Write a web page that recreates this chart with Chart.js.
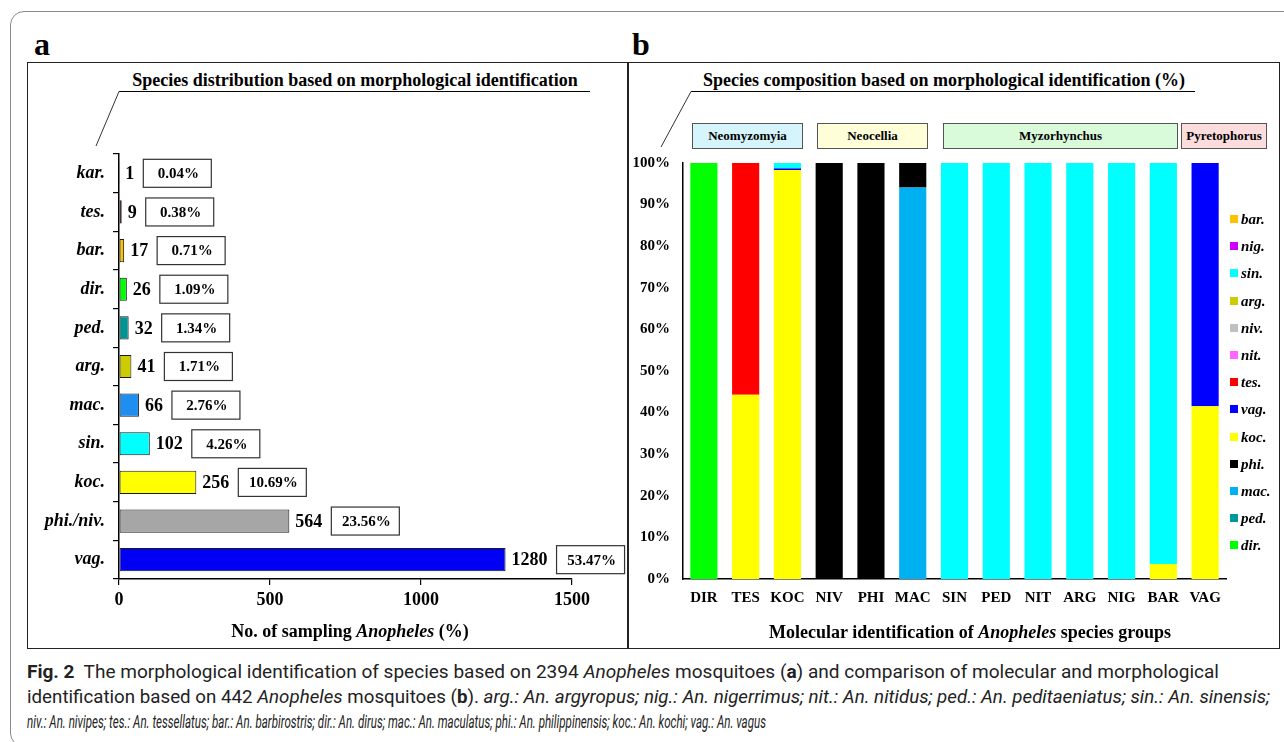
<!DOCTYPE html>
<html>
<head>
<meta charset="utf-8">
<script src="https://cdn.jsdelivr.net/npm/chart.js@4.4.1/dist/chart.umd.min.js"></script>
<style>
html, body { margin: 0; padding: 0; background: #fff; }
body { width: 1284px; height: 742px; position: relative; overflow: hidden; font-family: "Liberation Serif", "Times New Roman", serif; color: #000; }
.frame { position: absolute; left: 10px; top: 11px; width: 1300px; height: 736px; border: 1.5px solid #8a8a8a; border-radius: 14px; box-sizing: border-box; }
.panel { position: absolute; top: 62px; height: 587px; border: 1.5px solid #222; box-sizing: border-box; }
#pa { left: 27px; width: 602px; }
#pb { left: 627px; width: 653px; }
.tag { position: absolute; font-weight: bold; font-size: 32px; line-height: 32px; }
.ttl { position: absolute; font-weight: bold; font-size: 18px; white-space: nowrap; transform: translate(-50%, -50%); }
canvas { position: absolute; }
.grp { position: absolute; top: 123px; height: 26px; border: 1px solid #555; box-sizing: border-box; font-weight: bold; font-size: 13px; line-height: 24px; text-align: center; white-space: nowrap; }
.leg { position: absolute; left: 1230px; font-weight: bold; font-style: italic; font-size: 15px; line-height: 16px; white-space: nowrap; }
.leg span { display: inline-block; width: 8px; height: 8px; margin-right: 3px; vertical-align: 1px; }
.cap { position: absolute; left: 27px; font-family: "Liberation Sans Narrow", Roboto, "Open Sans", sans-serif; font-size: 18px; line-height: 24px; white-space: nowrap; display: inline-block; transform-origin: 0 0; color: #222; }
svg { position: absolute; left: 0; top: 0; }
</style>
</head>
<body>
<div class="frame"></div>
<div class="panel" id="pa"></div>
<div class="panel" id="pb"></div>
<div class="tag" style="left:34px;top:28px">a</div>
<div class="tag" style="left:632px;top:28px">b</div>

<div class="ttl" style="left:355px;top:80px">Species distribution based on morphological identification</div>
<div class="ttl" style="left:944px;top:80px">Species composition based on morphological identification (%)</div>
<svg width="1284" height="742">
  <line x1="119" y1="91.5" x2="590" y2="91.5" stroke="#000" stroke-width="1.2"/>
  <line x1="119" y1="91.5" x2="96" y2="146" stroke="#333" stroke-width="1"/>
  <line x1="691" y1="91.5" x2="1195" y2="91.5" stroke="#000" stroke-width="1.2"/>
  <line x1="691" y1="91.5" x2="661" y2="147" stroke="#333" stroke-width="1"/>
</svg>

<div class="grp" style="left:692px;width:111px;background:#d6f4fb">Neomyzomyia</div>
<div class="grp" style="left:817px;width:111px;background:#fefed8">Neocellia</div>
<div class="grp" style="left:943px;width:235px;background:#d9fbd9">Myzorhynchus</div>
<div class="grp" style="left:1181px;width:86px;background:#fcdcdd">Pyretophorus</div>

<canvas id="chartA" width="600" height="586" style="left:27px;top:62px"></canvas>
<canvas id="chartB" width="652" height="586" style="left:627px;top:62px"></canvas>
<div id="legend"></div>

<div class="ttl" style="left:350px;top:631px">No. of sampling <i>Anopheles</i> (%)</div>
<div class="ttl" style="left:970px;top:632px">Molecular identification of <i>Anopheles</i> species groups</div>

<div class="cap" data-w="1192" style="top:660px"><b>Fig. 2</b>&nbsp; The morphological identification of species based on 2394 <i>Anopheles</i> mosquitoes (<b>a</b>) and comparison of molecular and morphological</div>
<div class="cap" data-w="1243" style="top:685px">identification based on 442 <i>Anopheles</i> mosquitoes (<b>b</b>). <i>arg.: An. argyropus; nig.: An. nigerrimus; nit.: An. nitidus; ped.: An. peditaeniatus; sin.: An. sinensis;</i></div>
<div class="cap" data-w="739" style="top:710px"><i>niv.: An. nivipes; tes.: An. tessellatus; bar.: An. barbirostris; dir.: An. dirus; mac.: An. maculatus; phi.: An. philippinensis; koc.: An. kochi; vag.: An. vagus</i></div>

<script>
// panel a: morphological counts
var speciesA = ["kar.", "tes.", "bar.", "dir.", "ped.", "arg.", "mac.", "sin.", "koc.", "phi./niv.", "vag."];
var countsA = [1, 9, 17, 26, 32, 41, 66, 102, 256, 564, 1280];
var sharesA = ["0.04%", "0.38%", "0.71%", "1.09%", "1.34%", "1.71%", "2.76%", "4.26%", "10.69%", "23.56%", "53.47%"];
var coloursA = ["#1f2a60", "#ff0000", "#ffc000", "#00ff00", "#009494", "#cccc00", "#1e8ff0", "#00ffff", "#ffff00", "#a6a6a6", "#0000f5"];
var countTicks = [0, 500, 1000, 1500];

// panel b: molecular groups, % of each morphological species (stacked bottom to top)
var groupsB = ["DIR", "TES", "KOC", "NIV", "PHI", "MAC", "SIN", "PED", "NIT", "ARG", "NIG", "BAR", "VAG"];
var dirB = [100, 0, 0, 0, 0, 0, 0, 0, 0, 0, 0, 0, 0];
var pedB = [0, 0, 0, 0, 0, 0, 0, 0, 0, 0, 0, 0, 0];
var macB = [0, 0, 0, 0, 0, 94.1, 0, 0, 0, 0, 0, 0, 0];
var phiB = [0, 0, 0, 100, 100, 5.9, 0, 0, 0, 0, 0, 0, 0];
var kocB = [0, 44.3, 98.3, 0, 0, 0, 0, 0, 0, 0, 0, 3.6, 41.5];
var vagB = [0, 0, 0.4, 0, 0, 0, 0, 0, 0, 0, 0, 0, 58.5];
var tesB = [0, 55.7, 0, 0, 0, 0, 0, 0, 0, 0, 0, 0, 0];
var nitB = [0, 0, 0, 0, 0, 0, 0, 0, 0, 0, 0, 0, 0];
var nivB = [0, 0, 0, 0, 0, 0, 0, 0, 0, 0, 0, 0, 0];
var argB = [0, 0, 0, 0, 0, 0, 0, 0, 0, 0, 0, 0, 0];
var sinB = [0, 0, 1.3, 0, 0, 0, 100, 100, 100, 100, 100, 96.4, 0];
var nigB = [0, 0, 0, 0, 0, 0, 0, 0, 0, 0, 0, 0, 0];
var barB = [0, 0, 0, 0, 0, 0, 0, 0, 0, 0, 0, 0, 0];
var seriesNamesB = ["dir.", "ped.", "mac.", "phi.", "koc.", "vag.", "tes.", "nit.", "niv.", "arg.", "sin.", "nig.", "bar."];
var seriesValuesB = [dirB, pedB, macB, phiB, kocB, vagB, tesB, nitB, nivB, argB, sinB, nigB, barB];
var seriesColoursB = ["#00ff00", "#009999", "#00b0f0", "#000000", "#ffff00", "#0000ff", "#ff0000", "#ff66ff", "#c0c0c0", "#cccc00", "#00ffff", "#cc00ff", "#ffc000"];
var percentTicks = [0, 10, 20, 30, 40, 50, 60, 70, 80, 90, 100];

var serif = '"Liberation Serif", "Times New Roman", serif';

// value + boxed percentage next to every bar of panel a
var boxLabels = {
	id: "boxLabels",
	afterDatasetsDraw: function(chart) {
		var ctx = chart.ctx;
		var meta = chart.getDatasetMeta(0);
		ctx.save();
		meta.data.forEach(function(bar, i) {
			var x = bar.x, y = bar.y;
			ctx.font = "bold 18px " + serif;
			ctx.fillStyle = "#000";
			ctx.textAlign = "left";
			ctx.textBaseline = "middle";
			var t = String(countsA[i]);
			ctx.fillText(t, x + 6, y + 1);
			var bx = x + 6 + ctx.measureText(t).width + 9;
			ctx.fillStyle = "#fff";
			ctx.fillRect(bx, y - 14, 68, 28);
			ctx.strokeStyle = "#333";
			ctx.lineWidth = 1.2;
			ctx.strokeRect(bx, y - 14, 68, 28);
			ctx.font = "bold 15px " + serif;
			ctx.textAlign = "center";
			ctx.fillStyle = "#000";
			ctx.fillText(sharesA[i], bx + 35, y + 1);
		});
		ctx.restore();
	}
};

new Chart(document.getElementById("chartA"), {
	type: "bar",
	data: {
		labels: speciesA,
		datasets: [{
			data: countsA,
			backgroundColor: coloursA,
			borderColor: "#1a1a1a",
			borderWidth: 1,
			borderSkipped: false,
			barPercentage: 0.6,
			categoryPercentage: 1
		}]
	},
	options: {
		indexAxis: "y",
		responsive: false,
		animation: false,
		layout: { padding: { top: 92, right: 55, left: 0, bottom: 0 } },
		plugins: { legend: { display: false }, tooltip: { enabled: false } },
		scales: {
			x: {
				min: 0, max: 1500,
				afterBuildTicks: function(s) { s.ticks = countTicks.map(function(v) { return { value: v }; }); },
				ticks: { color: "#000", padding: 5, maxRotation: 0, callback: function(v) { return String(v); }, font: { family: serif, size: 18, weight: "bold" } },
				grid: { drawOnChartArea: false, color: "#000", tickLength: 6, lineWidth: 1.2 },
				border: { color: "#000", width: 1.5 },
				afterFit: function(s) { s.height = 69; }
			},
			y: {
				ticks: { color: "#000", padding: 8, font: { family: serif, size: 18, weight: "bold", style: "italic" } },
				grid: { drawOnChartArea: false, color: "#000", tickLength: 6, lineWidth: 1.2 },
				border: { color: "#000", width: 1.5 },
				afterFit: function(s) { s.width = 92; }
			}
		}
	},
	plugins: [boxLabels]
});

new Chart(document.getElementById("chartB"), {
	type: "bar",
	data: {
		labels: groupsB,
		datasets: seriesNamesB.map(function(name, i) {
			return {
				label: name,
				data: seriesValuesB[i],
				backgroundColor: seriesColoursB[i],
				borderWidth: 0,
				barPercentage: 0.65,
				categoryPercentage: 1
			};
		})
	},
	options: {
		responsive: false,
		animation: false,
		layout: { padding: { top: 101, right: 53, left: 0, bottom: 0 } },
		plugins: { legend: { display: false }, tooltip: { enabled: false } },
		scales: {
			x: {
				stacked: true,
				ticks: { color: "#000", padding: 10, maxRotation: 0, font: { family: serif, size: 15, weight: "bold" } },
				grid: { display: false, drawTicks: false },
				border: { color: "#000", width: 1.5 },
				afterFit: function(s) { s.height = 69; }
			},
			y: {
				stacked: true,
				min: 0, max: 100,
				afterBuildTicks: function(s) { s.ticks = percentTicks.map(function(v) { return { value: v }; }); },
				ticks: { color: "#000", padding: 13, callback: function(v) { return v + "%"; }, font: { family: serif, size: 15, weight: "bold" } },
				grid: { display: false, drawTicks: false },
				border: { color: "#000", width: 1.5 },
				afterFit: function(s) { s.width = 56; }
			}
		}
	}
});

// legend, top entry is the last stacked series
var leg = document.getElementById("legend");
for (var k = seriesNamesB.length - 1, row = 0; k >= 0; k--, row++) {
	var d = document.createElement("div");
	d.className = "leg";
	d.style.top = (211 + row * 27.2) + "px";
	d.innerHTML = '<span style="background:' + seriesColoursB[k] + '"></span>' + seriesNamesB[k];
	leg.appendChild(d);
}

// stretch caption lines to their widths in the figure
function fitCaption() {
	document.querySelectorAll(".cap").forEach(function(el) {
		el.style.transform = "none";
		var w = el.getBoundingClientRect().width;
		el.style.transform = "scaleX(" + (Number(el.dataset.w) / w) + ")";
	});
}
fitCaption();
if (document.fonts) document.fonts.ready.then(fitCaption);
</script>
</body>
</html>
